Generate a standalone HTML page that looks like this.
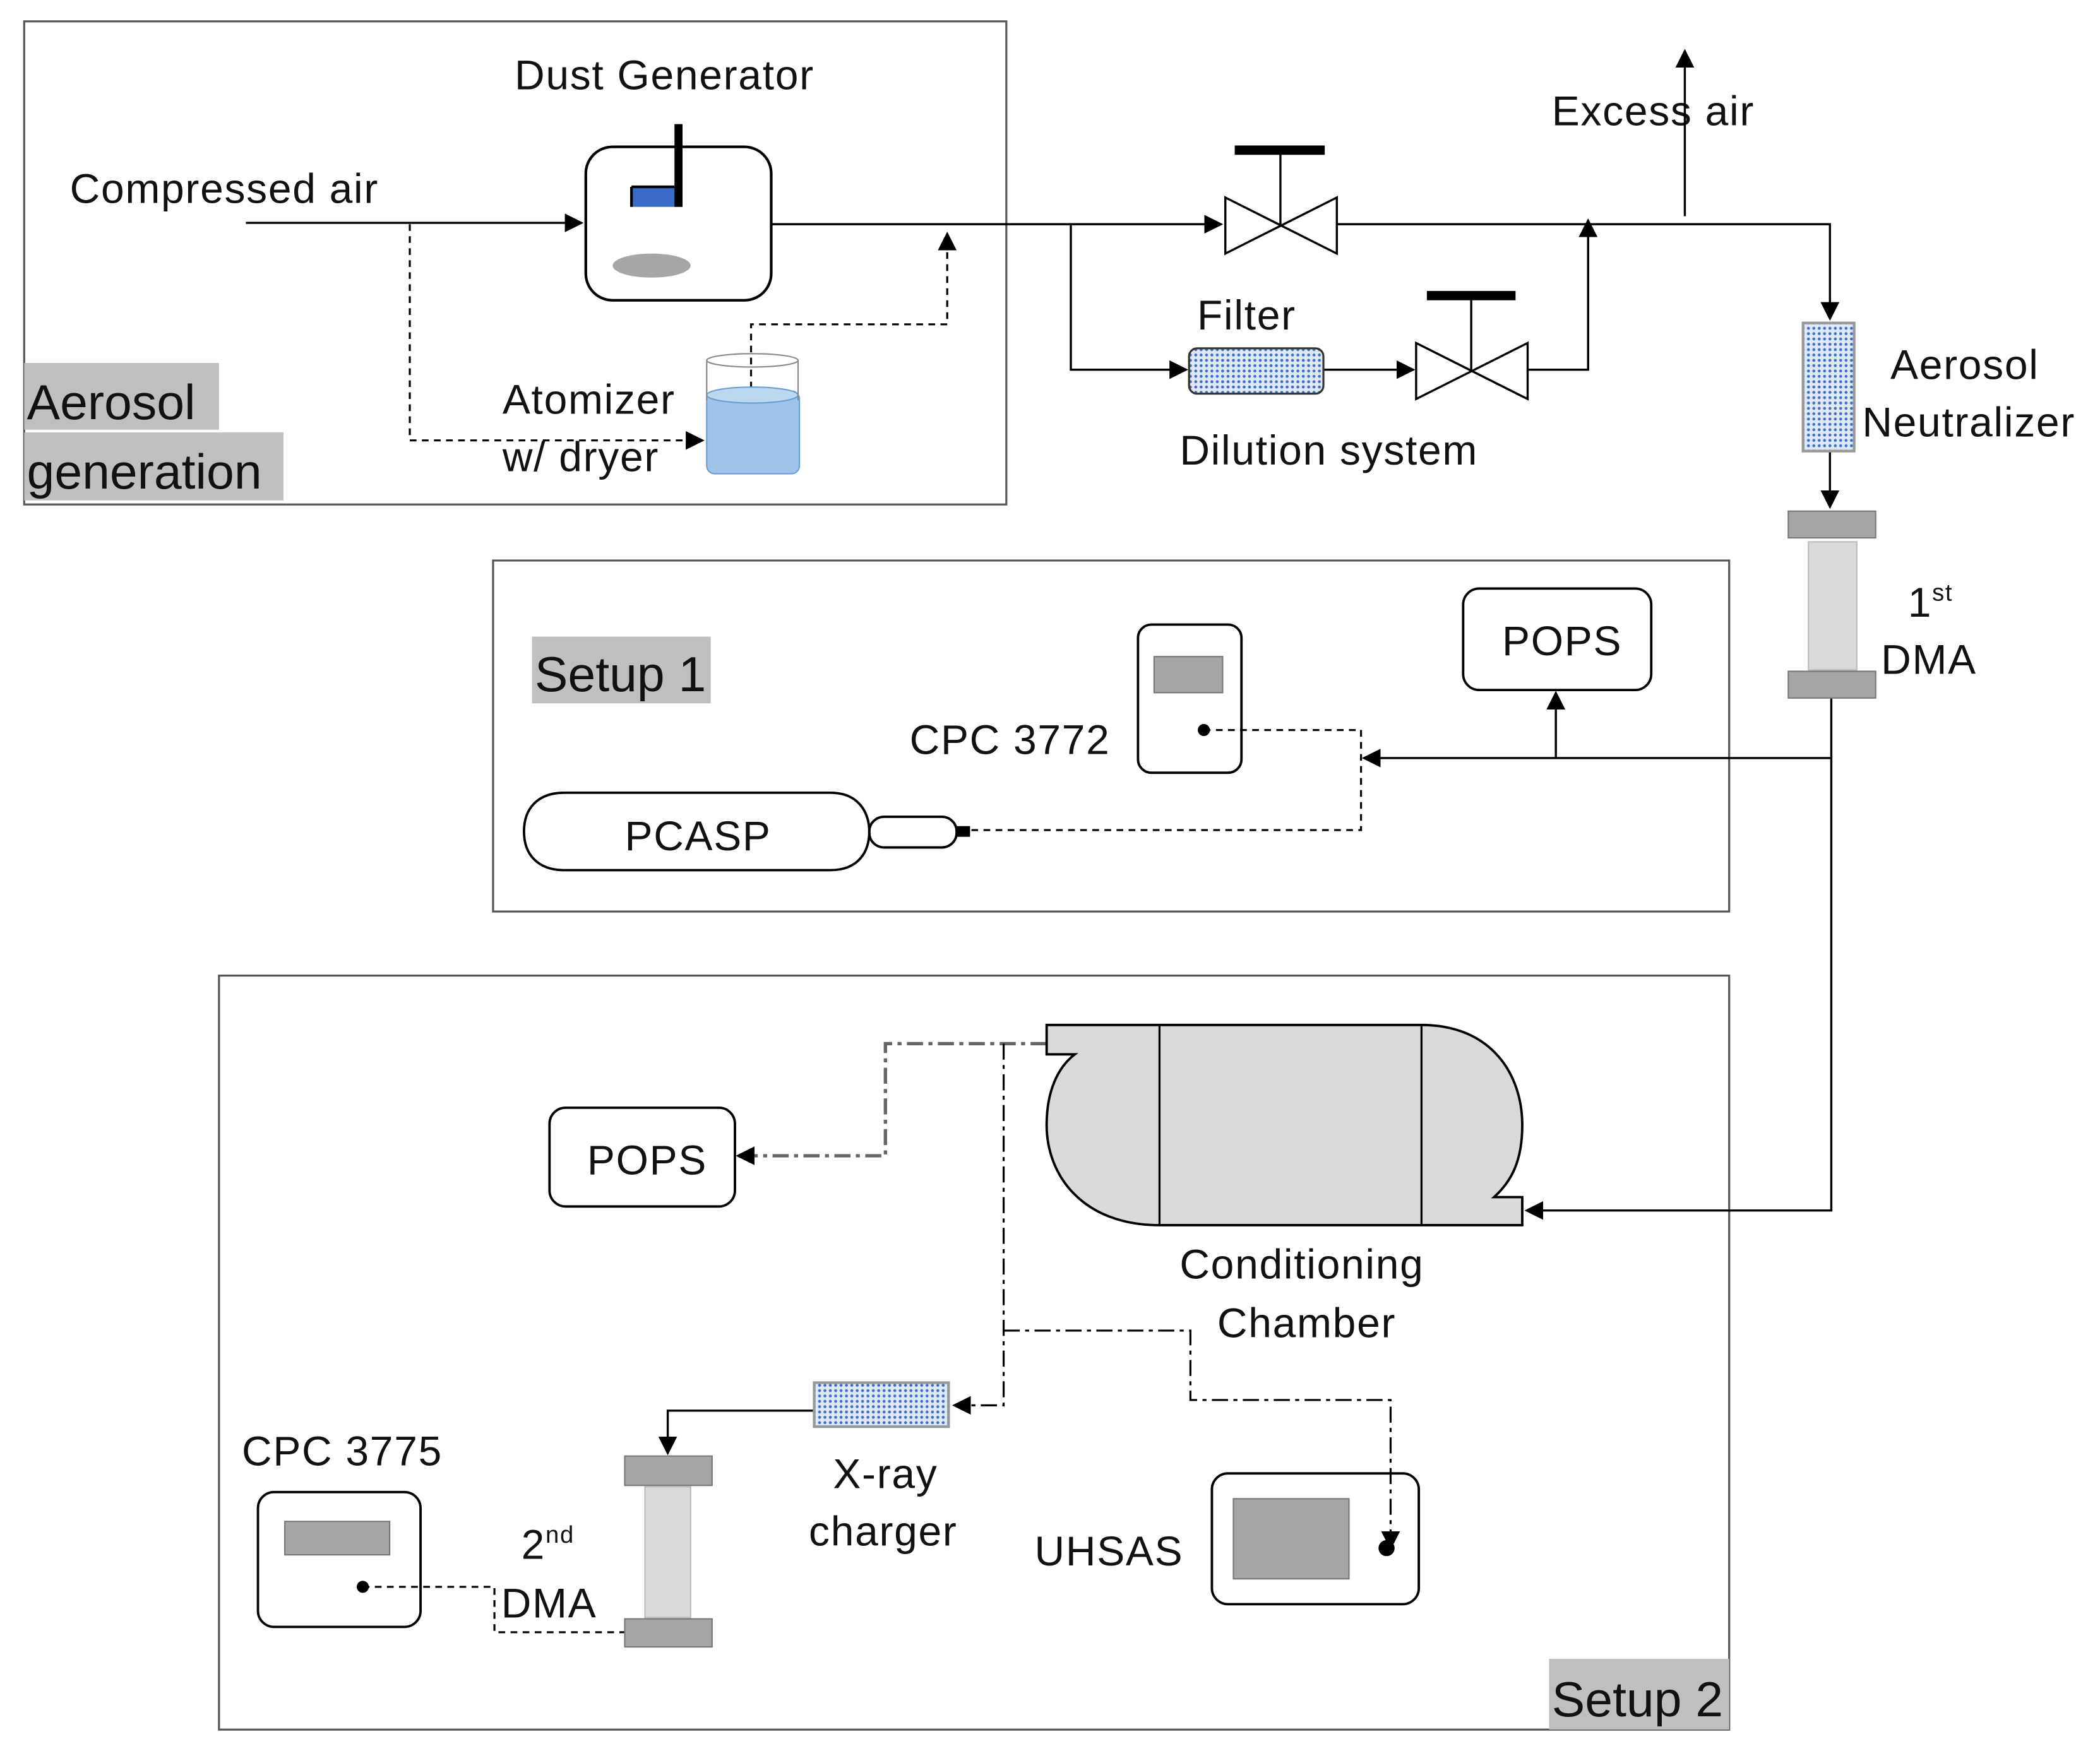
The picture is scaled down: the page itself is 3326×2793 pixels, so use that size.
<!DOCTYPE html>
<html><head><meta charset="utf-8"><style>
html,body{margin:0;padding:0;background:#fff;}
svg{display:block;}
text{font-family:"Liberation Sans",sans-serif;font-size:31px;letter-spacing:0.8px;fill:#111;}
text.big{font-size:37px;letter-spacing:0;}
</style></head><body>
<svg width="3326" height="2793" viewBox="0 0 1563 1321" preserveAspectRatio="none" xmlns="http://www.w3.org/2000/svg">
<defs>
<pattern id="dots" width="4" height="4" patternUnits="userSpaceOnUse"><rect width="4" height="4" fill="#dfe8f7"/><circle cx="2" cy="2" r="1.1" fill="#3d6fc4"/></pattern>
<marker id="a2" viewBox="0 0 10 10" refX="9" refY="5" markerWidth="14" markerHeight="14" orient="auto" markerUnits="userSpaceOnUse"><path d="M0,0 L10,5 L0,10 z" fill="#000"/></marker>
</defs>
<g fill="none" stroke="#555" stroke-width="1.5">
<rect x="18" y="16" width="731" height="362"/>
<rect x="367" y="420" width="920" height="263"/>
<rect x="163" y="731" width="1124" height="565"/>
</g>
<rect x="18" y="272" width="145" height="50" fill="#bfbfbf"/>
<rect x="18" y="324" width="193" height="51" fill="#bfbfbf"/>
<rect x="396" y="477" width="133" height="50" fill="#bfbfbf"/>
<rect x="1153" y="1243" width="134" height="53" fill="#bfbfbf"/>
<text class="big" x="20" y="314">Aerosol</text>
<text class="big" x="20" y="366">generation</text>
<text class="big" x="398" y="518">Setup 1</text>
<text class="big" x="1155" y="1286">Setup 2</text>

<text x="383" y="67">Dust Generator</text>
<text x="52" y="152">Compressed air</text>
<text x="374" y="310">Atomizer</text>
<text x="374" y="353">w/ dryer</text>
<text x="891" y="247">Filter</text>
<text x="878" y="348">Dilution system</text>
<text x="1155" y="94">Excess air</text>
<text x="1407" y="284">Aerosol</text>
<text x="1386" y="327">Neutralizer</text>
<text x="1420" y="462">1<tspan style="font-size:18px" dy="-12">st</tspan></text>
<text x="1400" y="505">DMA</text>
<text x="677" y="565">CPC 3772</text>
<text x="1118" y="491">POPS</text>
<text x="465" y="637">PCASP</text>
<text x="437" y="880">POPS</text>
<text x="878" y="958">Conditioning</text>
<text x="906" y="1002">Chamber</text>
<text x="620" y="1115">X-ray</text>
<text x="602" y="1158">charger</text>
<text x="388" y="1168">2<tspan style="font-size:18px" dy="-12">nd</tspan></text>
<text x="373" y="1212">DMA</text>
<text x="180" y="1098">CPC 3775</text>
<text x="770" y="1173">UHSAS</text>

<g fill="none" stroke="#000" stroke-width="1.6">
<path d="M183,167 H433" marker-end="url(#a2)"/>
<path d="M574,168 H909" marker-end="url(#a2)"/>
<path d="M995,168 H1362 V239" marker-end="url(#a2)"/>
<path d="M1254,162 V38" marker-end="url(#a2)"/>
<path d="M797,168 V277 H883" marker-end="url(#a2)"/>
<path d="M985,277 H1052" marker-end="url(#a2)"/>
<path d="M1137,277 H1182 V165" marker-end="url(#a2)"/>
<path d="M1362,338 V380" marker-end="url(#a2)"/>
<path d="M1363,523 V907 H1136" marker-end="url(#a2)"/>
<path d="M1363,568 H1015" marker-end="url(#a2)"/>
<path d="M1158,568 V519" marker-end="url(#a2)"/>
<path d="M606,1057 H497 V1089" marker-end="url(#a2)"/>
</g>
<g fill="none" stroke="#000" stroke-width="1.5" stroke-dasharray="5,4">
<path d="M305,168 V330 H523" marker-end="url(#a2)"/>
<path d="M559,318 V243 H705 V175" marker-end="url(#a2)"/>
<path d="M896,547 H1013 V622 H718"/>
<path d="M270,1189 H368 V1223 H465"/>
</g>
<g fill="none" stroke="#000" stroke-width="1.5" stroke-dasharray="12,4,3,4">
<path d="M779,782 H659 V866 H549" stroke="#666" stroke-width="2.5" marker-end="url(#a2)"/>
<path d="M747,782 V1053 H710" marker-end="url(#a2)"/>
<path d="M747,997 H886 V1049 H1035 V1160" marker-end="url(#a2)"/>
</g>
<rect x="436" y="110" width="138" height="115" rx="20" fill="#fff" stroke="#000" stroke-width="2"/>
<path d="M470,140 H508 V155 H470 Z" fill="#3a6bc9"/>
<path d="M470,140 H502 M470,140 V155" stroke="#000" stroke-width="2" fill="none"/>
<rect x="502" y="93" width="6" height="62" fill="#000"/>
<ellipse cx="485" cy="199" rx="29" ry="9" fill="#a6a6a6"/>
<rect x="526" y="293" width="69" height="62" rx="6" fill="#9dc3e6" stroke="#6a9fd4"/>
<ellipse cx="560" cy="296" rx="34" ry="6" fill="#bdd7ee" stroke="#6a9fd4"/>
<path d="M526,270 V300 M594,270 V300" stroke="#888" fill="none"/>
<ellipse cx="560" cy="270" rx="34" ry="5" fill="none" stroke="#888"/>
<g stroke="#000" stroke-width="1.6" fill="#fff">
<path d="M912,148 L995,190 V148 L912,190 Z"/>
<path d="M953,168 V113"/>
<path d="M1054,257 L1137,299 V257 L1054,299 Z"/>
<path d="M1095,278 V222"/>
</g>
<rect x="919" y="109" width="67" height="7" fill="#000"/>
<rect x="1062" y="218" width="66" height="7" fill="#000"/>
<rect x="885" y="261" width="100" height="34" rx="6" fill="url(#dots)" stroke="#333" stroke-width="1.5"/>
<rect x="1342" y="242" width="38" height="96" fill="url(#dots)" stroke="#999" stroke-width="2"/>
<rect x="606" y="1036" width="100" height="33" fill="url(#dots)" stroke="#999" stroke-width="2"/>
<rect x="1331" y="383" width="65" height="20" fill="#a6a6a6" stroke="#777"/>
<rect x="1346" y="406" width="36" height="96" fill="#d9d9d9" stroke="#bbb"/>
<rect x="1331" y="503" width="65" height="20" fill="#a6a6a6" stroke="#777"/>
<rect x="465" y="1091" width="65" height="22" fill="#a6a6a6" stroke="#777"/>
<rect x="480" y="1114" width="34" height="98" fill="#d9d9d9" stroke="#bbb"/>
<rect x="465" y="1213" width="65" height="21" fill="#a6a6a6" stroke="#777"/>
<g fill="none" stroke="#000" stroke-width="1.8">
<rect x="847" y="468" width="77" height="111" rx="10"/>
<rect x="1089" y="441" width="140" height="76" rx="12"/>
<rect x="409" y="830" width="138" height="74" rx="12"/>
<rect x="192" y="1118" width="121" height="101" rx="12"/>
<rect x="902" y="1104" width="154" height="98" rx="12"/>
<path d="M420,594 H618 C640,594 647,610 647,623 C647,637 640,652 618,652 H420 C400,652 390,640 390,623 C390,606 400,594 420,594 Z"/>
<rect x="647" y="612" width="65" height="23" rx="11"/>
</g>
<rect x="859" y="492" width="51" height="27" fill="#a6a6a6" stroke="#777"/>
<rect x="212" y="1140" width="78" height="25" fill="#a6a6a6" stroke="#777"/>
<rect x="918" y="1123" width="86" height="60" fill="#a6a6a6" stroke="#777"/>
<circle cx="896" cy="547" r="4.5" fill="#000"/>
<circle cx="270" cy="1189" r="4.5" fill="#000"/>
<rect x="712" y="619" width="10" height="8" fill="#000"/>
<circle cx="1032" cy="1160" r="6" fill="#000"/>
<path d="M779,768 H1058 C1110,768 1133,805 1133,843 C1133,870 1125,885 1112,897 H1133 V918 H863 C805,918 779,880 779,843 C779,818 787,800 800,790 H779 Z" fill="#d9d9d9" stroke="#000" stroke-width="1.8"/>
<path d="M863,768 V918 M1058,768 V918" stroke="#000" stroke-width="1.5"/>
</svg>
</body></html>
